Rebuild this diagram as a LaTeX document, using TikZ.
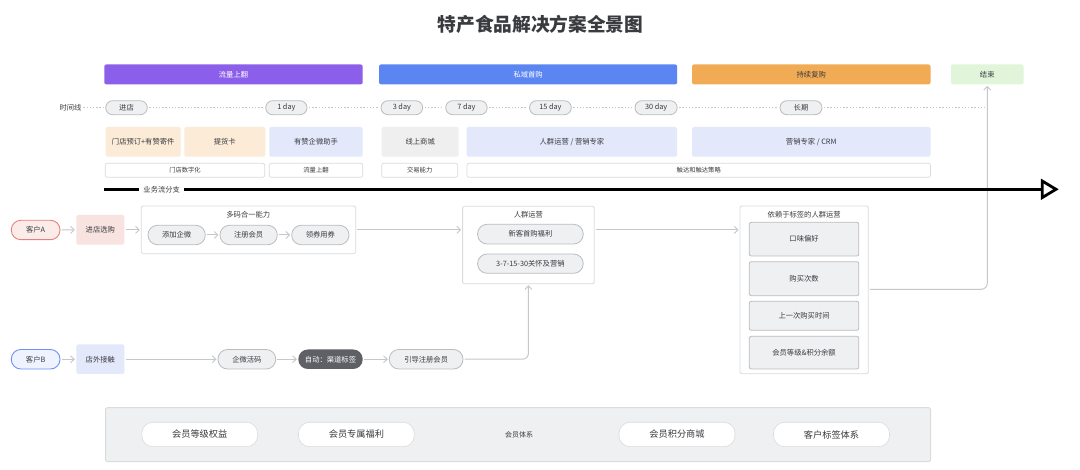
\documentclass[tikz,border=0pt]{standalone}
\usepackage{fontspec}
\setmainfont{Noto Sans CJK SC}
\usetikzlibrary{arrows.meta,calc}
\definecolor{ink}{HTML}{3A3B3E}
\definecolor{cpurple}{HTML}{8C5FEA}
\definecolor{cblue}{HTML}{5B86F2}
\definecolor{corange}{HTML}{F2AB55}
\definecolor{cgreen}{HTML}{E0F5DA}
\definecolor{cpeach}{HTML}{FBEBD7}
\definecolor{clav}{HTML}{E3E8FB}
\definecolor{cgray}{HTML}{EFEFEF}
\definecolor{cpink}{HTML}{F9E3E1}
\definecolor{pillfill}{HTML}{EFF0F2}
\definecolor{pillline}{HTML}{BBBCBF}
\definecolor{cdark}{HTML}{5E6066}
\definecolor{wire}{HTML}{C6C7CB}
\definecolor{frame}{HTML}{DADBDD}
\tikzset{
  base/.style={inner sep=0pt,outer sep=0pt,align=center,text=ink,font=\fontsize{7.3}{9}\selectfont},
  banner/.style={base,rounded corners=2pt},
  flat/.style={base,rounded corners=1.5pt},
  thin box/.style={base,draw=frame,line width=.7pt,fill=white,rounded corners=2pt,font=\fontsize{6.3}{8}\selectfont},
  pill/.style={base,draw=pillline,line width=.8pt,fill=pillfill,rounded corners=7pt},
  tag/.style={base,draw=pillline,line width=.8pt,fill=pillfill,rounded corners=2pt},
  white pill/.style={base,draw=frame,line width=.6pt,fill=white,rounded corners=11pt,font=\fontsize{9.2}{11}\selectfont},
  label/.style={base},
  wirearrow/.style={draw=wire,line width=1pt,-{Straight Barb[length=3.6pt,width=7pt,line width=.9pt]},shorten <=1.5pt,shorten >=1.5pt},
  dots/.style={draw=wire,line width=1pt,dash pattern=on 1.4pt off 1.8pt,shorten <=2pt,shorten >=2pt},
}
\newcommand{\nd}[7][]{%
  \pgfmathsetmacro{\nw}{#5-#3}\pgfmathsetmacro{\nh}{#6-#4}%
  \pgfmathsetmacro{\cx}{(#3+#5)/2}\pgfmathsetmacro{\cy}{(#4+#6)/2}%
  \node[#1,minimum width=\nw pt,minimum height=\nh pt] (#2) at (\cx,\cy) {#7};}
\begin{document}
\begin{tikzpicture}[x=1pt,y=-1pt]
\useasboundingbox (0,0) rectangle (1080,470);
\fill[white] (0,0) rectangle (1080,470);
\node[base,font=\fontsize{18.7}{22}\selectfont\bfseries] (title) at (540.5,24) {特产食品解决方案全景图};

% phase banners
\nd[banner,fill=cpurple,text=white]{p1}{104.3}{64.5}{362.7}{84.3}{流量上翻}
\nd[banner,fill=cblue,text=white]{p2}{379}{64.5}{677.2}{84.3}{私域首购}
\nd[banner,fill=corange]{p3}{692}{64.5}{930.5}{84.3}{持续复购}
\nd[banner,fill=cgreen]{p4}{951}{64.5}{1023.5}{84.3}{结束}

% timeline
\node[label] (tl) at (70.5,107.7) {时间线};
\nd[pill]{t0}{105.7}{100.7}{147.3}{114.7}{进店}
\nd[pill]{t1}{265.7}{100.7}{307}{114.7}{1 day}
\nd[pill]{t2}{381}{100.7}{422.7}{114.7}{3 day}
\nd[pill]{t3}{445.7}{100.7}{487.2}{114.7}{7 day}
\nd[pill]{t4}{529.5}{100.7}{571.3}{114.7}{15 day}
\nd[pill]{t5}{635}{100.7}{677.2}{114.7}{30 day}
\nd[pill]{t6}{780}{100.7}{822}{114.7}{长期}
\coordinate (tend) at (987.2,107.7);
\draw[dots] (tl) -- (t0);
\draw[dots] (t0) -- (t1);
\draw[dots] (t1) -- (t2);
\draw[dots] (t2) -- (t3);
\draw[dots] (t3) -- (t4);
\draw[dots] (t4) -- (t5);
\draw[dots] (t5) -- (t6);
\draw[dots,shorten >=0pt] (t6) -- (tend);

% tools row
\nd[flat,fill=cpeach]{a1}{105.7}{127}{180.7}{156.7}{门店预订+有赞寄件}
\nd[flat,fill=cpeach]{a2}{184.3}{127}{265.3}{156.7}{提货卡}
\nd[flat,fill=clav]{a3}{269.3}{127}{362.7}{156.7}{有赞企微助手}
\nd[flat,fill=cgray]{a4}{381.7}{127}{458.7}{156.7}{线上商城}
\nd[flat,fill=clav]{a5}{466.7}{127}{677.2}{156.7}{人群运营 / 营销专家}
\nd[flat,fill=clav]{a6}{692}{127}{930.5}{156.7}{营销专家 / CRM}

% capability row
\nd[thin box]{b1}{105.3}{163.3}{264.7}{177.3}{门店数字化}
\nd[thin box]{b2}{269.3}{163.3}{362.7}{177.3}{流量上翻}
\nd[thin box]{b3}{381.7}{163.3}{457.7}{177.3}{交易能力}
\nd[thin box]{b4}{467}{163.3}{930.5}{177.3}{触达和触达策略}

% customer A
\nd[base,draw={rgb,255:red,229;green,128;blue,122},line width=.9pt,fill={rgb,255:red,251;green,236;blue,234},rounded corners=9.5pt]{ca}{11.3}{220.3}{60}{239.7}{客户A}
\nd[flat,fill=cpink]{sa}{76.3}{215}{124.3}{244.7}{进店选购}
\nd[base,draw=frame,line width=.8pt,fill=white,rounded corners=1.5pt]{g1}{141.3}{206}{355.7}{253.7}{}
\node[label] (g1t) at (248.3,214.7) {多码合一能力};
\nd[pill,rounded corners=9.5pt]{g1a}{148}{225.3}{205.3}{244.7}{添加企微}
\nd[pill,rounded corners=9.5pt]{g1b}{220}{225.3}{277.3}{244.7}{注册会员}
\nd[pill,rounded corners=9.5pt]{g1c}{291.7}{225.3}{349}{244.7}{领券用券}

\nd[base,draw=frame,line width=.8pt,fill=white,rounded corners=1.5pt]{g2}{462.6}{206.3}{594.3}{283.7}{}
\node[label] (g2t) at (528.4,214.7) {人群运营};
\nd[pill,rounded corners=9.5pt]{g2a}{477.6}{224.3}{583.2}{244}{新客首购福利}
\nd[pill,rounded corners=9.5pt]{g2b}{477.6}{254}{583.2}{273.3}{3-7-15-30关怀及营销}

\nd[base,draw=frame,line width=.8pt,fill=white,rounded corners=1.5pt]{g3}{740}{206}{868.3}{373.7}{}
\node[label] (g3t) at (804.2,214.3) {依赖于标签的人群运营};
\nd[tag]{g3a}{749.3}{222.3}{858.8}{256}{口味偏好}
\nd[tag]{g3b}{749.3}{261.7}{858.8}{295.7}{购买次数}
\nd[tag]{g3c}{749.3}{301.3}{858.8}{330.3}{上一次购买时间}
\nd[tag]{g3d}{749.3}{336.3}{858.8}{369}{会员等级\&积分余额}

% customer B
\nd[base,draw={rgb,255:red,110;green,147;blue,238},line width=.9pt,fill={rgb,255:red,238;green,243;blue,255},rounded corners=9.5pt]{cb}{11.3}{349.5}{60}{369}{客户B}
\nd[flat,fill=clav]{sb}{76.3}{344.5}{124.3}{374}{店外接触}
\nd[pill,rounded corners=9.5pt]{b1a}{218}{349.5}{275.7}{369}{企微活码}
\nd[base,fill=cdark,text=white,rounded corners=9.5pt]{b1b}{298.3}{349.5}{362.7}{369}{自动：渠道标签}
\nd[pill,rounded corners=9.5pt]{b1c}{389.3}{349.5}{463}{369}{引导注册会员}

% connectors
\draw[wirearrow] (ca) -- (sa);
\draw[wirearrow] (sa.east) -- (g1.west |- sa.east);
\draw[wirearrow] (g1a) -- (g1b);
\draw[wirearrow] (g1b) -- (g1c);
\draw[wirearrow] (g1.east |- sa.east) -- (g2.west |- sa.east);
\draw[wirearrow] (g2.east |- sa.east) -- (g3.west |- sa.east);
\draw[wirearrow] (cb) -- (sb);
\draw[wirearrow] (sb) -- (b1a);
\draw[wirearrow] (b1a) -- (b1b);
\draw[wirearrow] (b1b) -- (b1c);
\draw[wirearrow,rounded corners=6pt] (b1c.east) -| (g2.south);
\draw[wirearrow,rounded corners=6pt] (g3.east |- 0,289.3) -| (p4.south);

% branch axis
\coordinate (axs) at (104.3,189.3);
\coordinate (axe) at (1043,189.3);
\draw[line width=2.8pt] (axs) -- (axe);
\draw[line width=2.8pt,fill=white,miter limit=10] (1042.2,181) -- (1056,189.3) -- (1042.2,197.6) -- cycle;
\node[base,fill=white,minimum width=45pt,minimum height=9pt] (axl) at (161.7,189.3) {业务流分支};

% membership band
\nd[base,draw=frame,line width=1pt,fill=pillfill,rounded corners=2pt]{m}{105.6}{407.7}{930.5}{461.7}{}
\nd[white pill]{m1}{141.8}{422.3}{257.6}{446.7}{会员等级权益}
\nd[white pill]{m2}{298.5}{422.3}{414.3}{446.7}{会员专属福利}
\node[label,font=\fontsize{7}{9}\selectfont] (ml) at (519,435) {会员体系};
\nd[white pill]{m3}{619}{422.3}{735}{446.7}{会员积分商城}
\nd[white pill]{m4}{773.5}{422.3}{889.5}{446.7}{客户标签体系}
\end{tikzpicture}
\end{document}
